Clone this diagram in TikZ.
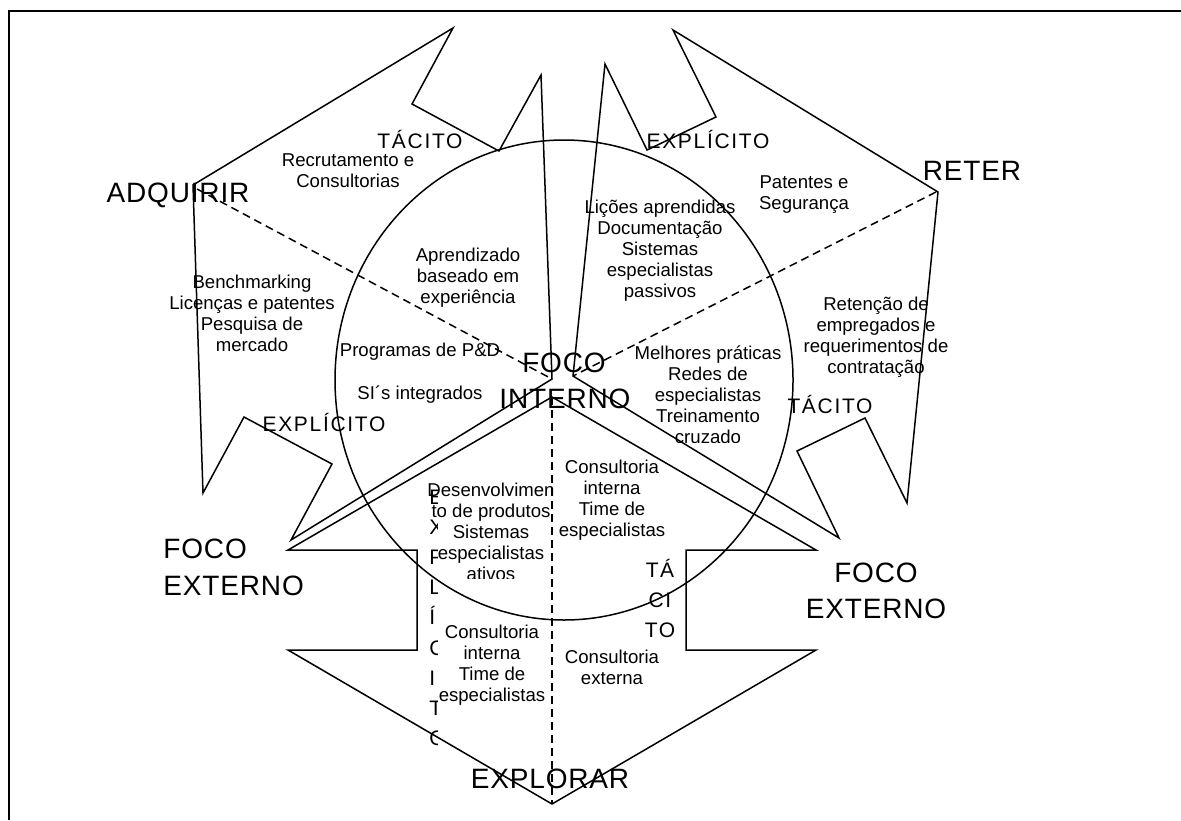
\documentclass[tikz,border=0pt]{standalone}
\usepackage{fontspec}
\setmainfont{Liberation Sans}
\newfontfamily\capsbig[LetterSpace=3]{Liberation Sans}
\newfontfamily\capsmid[LetterSpace=8]{Liberation Sans}

\begin{document}
\begin{tikzpicture}[x=0.5pt,y=-0.5pt,
    contorno/.style={draw,line width=0.75pt,line join=miter},
    eixo/.style={draw,line width=0.75pt,dash pattern=on 4pt off 2.5pt},
    txt/.style={font=\fontsize{9.3}{10.5}\selectfont,align=center,inner sep=0pt},
    rotulo/.style={font=\capsbig\fontsize{14}{18}\selectfont,inner sep=0pt,anchor=base},
    dimensao/.style={font=\capsmid\fontsize{10.5}{15}\selectfont,inner sep=0pt,anchor=base}]
  \useasboundingbox (0,0) rectangle (1181,820);
  % moldura
  \draw[line width=1pt] (9,820) -- (9,11) -- (1181,11);

  % pontos de referencia
  \coordinate (ctrA) at (552,379);
  \coordinate (ctrR) at (573,376);
  \coordinate (apex) at (552,397);
  \coordinate (tipA) at (197,189);
  \coordinate (tipR) at (936,192);
  \coordinate (tipE) at (552,804);

  % circulo central
  \draw[line width=0.75pt] (564,380) ellipse [x radius=114.5pt, y radius=120pt];

  % setas
  \draw[contorno] (ctrA) -- (541,75) -- (499,151) -- (412,104) -- (453,28) -- (193,185)
    -- (203,493) -- (244,417) -- (332,464) -- (291,540) -- cycle; % adquirir
  \draw[contorno] (ctrR) -- (605,64) -- (647,150) -- (716,117) -- (673,30) -- (938,192)
    -- (907,503) -- (865,418) -- (797,451) -- (839,538) -- cycle; % reter
  \draw[contorno] (apex) -- (816,550) -- (686,550) -- (686,650) -- (816,650) -- (tipE)
    -- (288,650) -- (417,650) -- (417,550) -- (288,550) -- cycle; % explorar

  % eixos tracejados
  \draw[eixo] (tipA) -- (ctrA);
  \draw[eixo] (tipR) -- (ctrR);
  \draw[eixo] (apex) -- (tipE);

  % rotulos grandes
  \node[rotulo] (adquirir) at (178,202) {ADQUIRIR};
  \node[rotulo] (reter) at (972,180) {RETER};
  \node[rotulo] (foco) at (564,372) {FOCO};
  \node[rotulo] (interno) at (565,408) {INTERNO};
  \node[rotulo,anchor=base west] (focoL) at (163,558) {FOCO};
  \node[rotulo,anchor=base west] (externoL) at (163,595) {EXTERNO};
  \node[rotulo] (focoR) at (876,582) {FOCO};
  \node[rotulo] (externoR) at (876,618) {EXTERNO};
  \node[rotulo] (explorar) at (550,788) {EXPLORAR};

  % tacito / explicito
  \node[dimensao] (tacA) at (420,148.5) {TÁCITO};
  \node[dimensao] (expR) at (708,148.5) {EXPLÍCITO};
  \node[dimensao] (expA) at (324,431.5) {EXPLÍCITO};
  \node[dimensao] (tacR) at (830,413.5) {TÁCITO};
  \foreach \s [count=\i] in {TÁ,CI,TO}
    \node[dimensao] (tacE\i) at (660,547+30*\i) {\s};
  \begin{scope}
    \clip (420,470) rectangle (437.5,760);
    \foreach \l [count=\i] in {E,X,P,L,Í,C,I,T,O}
      \node[dimensao,anchor=base west] (expE\i) at (429,474.4+30.1*\i) {\l};
  \end{scope}

  % textos
  \node[txt] (recrut) at (348,171) {Recrutamento e\\Consultorias};
  \node[txt] (aprend) at (468,278) {Aprendizado\\baseado em\\experiência};
  \node[txt] (licoes) at (660,251) {Lições aprendidas\\Documentação\\Sistemas\\especialistas\\passivos};
  \node[txt] (patent) at (804,195) {Patentes e\\Segurança};
  \node[txt] (bench) at (252,313) {Benchmarking\\Licenças e patentes\\Pesquisa de\\mercado};
  \node[txt] (progr) at (420,352) {Programas de P\&D};
  \node[txt] (sis) at (420,395) {SI´s integrados};
  \node[txt] (retenc) at (876,337) {Retenção de\\empregados e\\requerimentos de\\contratação};
  \begin{scope}
    \clip (600,330) rectangle (820,442);
    \node[txt] (melhor) at (708,395) {Melhores práticas\\Redes de\\especialistas\\Treinamento\\cruzado};
  \end{scope}
  \begin{scope}
    \clip (420,470) rectangle (560,578);
    \node[txt] (desenv) at (491,532) {Desenvolvimen\\to de produtos\\Sistemas\\especialistas\\ativos};
  \end{scope}
  \node[txt] (consI) at (612,500) {Consultoria\\interna\\Time de\\especialistas};
  \node[txt] (consI2) at (492,665) {Consultoria\\interna\\Time de\\especialistas};
  \node[txt] (consE) at (612,667) {Consultoria\\externa};
\end{tikzpicture}
\end{document}
